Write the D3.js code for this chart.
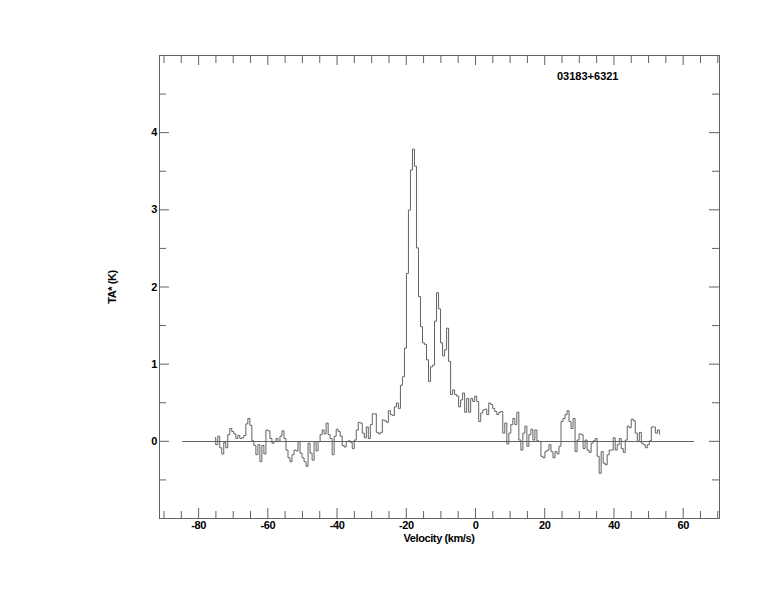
<!DOCTYPE html>
<html><head><meta charset="utf-8">
<script src="https://cdn.jsdelivr.net/npm/d3@7/dist/d3.min.js"></script>
<style>body{margin:0;background:#fff}svg{display:block}text{font-family:"Liberation Sans",Arial,Helvetica,sans-serif;font-weight:bold;font-size:11px;letter-spacing:-0.4px;fill:#000}</style>
</head><body>
<svg id="c" width="774" height="612"></svg>
<script>
// ---- data ----
const sourceName = "03183+6321";
const xLabel = "Velocity (km/s)";
const yLabel = "TA* (K)";
const v0 = -75.2;   // first channel velocity (km/s)
const dv = 0.58;    // channel width (km/s)
const taSegA = [0.04,-0.05,0.06,-0.09,-0.17,-0.02,-0.09,0.08,0.16,0.12,0.09,0.03,0.07,0.03,0.04,0.07,0.22,0.29,0.20,0.00,
  -0.06,-0.18,-0.05,-0.27,-0.06,-0.17,0.14,0.13,0.03,-0.03,-0.01,0.03,-0.01,0.06,0.13,0.03,-0.12,-0.22,-0.27,-0.18,
  -0.12,-0.13,-0.01,-0.16,-0.22,-0.27,-0.33,-0.03,-0.16,-0.25,-0.01,-0.13,-0.01,0.08,0.14,0.09,0.23,0.08,0.03,-0.18];
const taSegB = [0.06,0.15,0.12,0.06,-0.06,-0.08,-0.01,0.00,-0.02,-0.10,0.01,0.14,0.24,0.23,0.10,0.04,0.18,0.03,0.21,0.35,
  0.35,0.11,0.09,0.11,0.27,0.26,0.24,0.39,0.34,0.33,0.44,0.49];
const taSegC = [0.42,0.72,0.83,1.20,2.17,2.99,3.51,3.78,3.56,2.50,1.87,1.48,1.27,1.25,1.05,0.77,0.96,0.98,1.55,1.92,
  1.71,1.27,1.10,1.18,1.46,1.03,0.60];
const taSegD = [0.66,0.60,0.58,0.44,0.53,0.62,0.37,0.55,0.37,0.55,0.51,0.58,0.51,0.25,0.36,0.40,0.41,0.34,0.49,0.47,
  0.42,0.38,0.34,0.37,0.38,0.10,0.23,-0.04,0.10,0.21,0.29,0.21,0.37,0.01,-0.12,0.10,0.19,-0.07,0.08,0.15,
  0.01,0.14,0.00,-0.01,-0.20,-0.22,-0.14];
const taSegE = [-0.12,-0.05,-0.14,-0.22,-0.14,-0.17,-0.07,0.25,0.29,0.34,0.39,0.25,0.16,0.29,-0.14,0.01,0.09,0.08,-0.10,0.01,
  -0.12,-0.15,-0.03,0.00,0.03,-0.20,-0.42,-0.14,-0.29,-0.31,-0.18,-0.12,-0.12,0.04,-0.12,-0.05,0.03,-0.10,-0.15,0.01,
  0.19,0.17,0.28,0.26,0.10,-0.01,0.11,-0.03,-0.05,-0.09,-0.05,0.00,0.18,0.18,0.10,0.14,0.09];
const baselineRange = [-84.6, 63.3];
const xMajorTicks = [-80,-60,-40,-20,0,20,40,60];
const xMinorTicks = [-90,-85,-75,-70,-65,-55,-50,-45,-35,-30,-25,-15,-10,-5,5,10,15,25,30,35,45,50,55,65,70];
const yMajorTicks = [0,1,2,3,4];
const yMinorTicks = [-0.5,0.5,1.5,2.5,3.5,4.5];

// ---- build ----
const ta = [].concat(taSegA, taSegB, taSegC, taSegD, taSegE);
const spectrum = ta.map((t, i) => ({v: v0 + i * dv, t}));

const L = 159, R = 719, T = 55, B = 518;
const x = d3.scaleLinear().domain([-91.3, 70.5]).range([L, R]);
const y = d3.scaleLinear().domain([-1, 5]).range([B, T]);
const grey = "#626262";
const svg = d3.select("#c");
const fmt = d => String(d);   // plain hyphen-minus like the reference

function styleAxis(g){
  g.select(".domain").remove();
  g.selectAll(".tick line").attr("stroke", grey);
}
// bottom
svg.append("g").attr("transform", `translate(0,${B})`)
  .call(d3.axisBottom(x).tickValues(xMajorTicks).tickSize(-10).tickPadding(3).tickFormat(fmt))
  .call(styleAxis).call(g => g.selectAll("text").attr("font-size", null).attr("font-family", null));
svg.append("g").attr("transform", `translate(0,${B})`)
  .call(d3.axisBottom(x).tickValues(xMinorTicks).tickSize(-7).tickFormat(""))
  .call(styleAxis);
// top
svg.append("g").attr("transform", `translate(0,${T})`)
  .call(d3.axisTop(x).tickValues(xMajorTicks).tickSize(-10).tickFormat(""))
  .call(styleAxis);
svg.append("g").attr("transform", `translate(0,${T})`)
  .call(d3.axisTop(x).tickValues(xMinorTicks).tickSize(-8).tickFormat(""))
  .call(styleAxis);
// left
svg.append("g").attr("transform", `translate(${L},0)`)
  .call(d3.axisLeft(y).tickValues(yMajorTicks).tickSize(-10).tickPadding(2).tickFormat(fmt))
  .call(styleAxis).call(g => g.selectAll("text").attr("font-size", null).attr("font-family", null));
svg.append("g").attr("transform", `translate(${L},0)`)
  .call(d3.axisLeft(y).tickValues(yMinorTicks).tickSize(-7).tickFormat(""))
  .call(styleAxis);
// right
svg.append("g").attr("transform", `translate(${R},0)`)
  .call(d3.axisRight(y).tickValues(yMajorTicks).tickSize(-10).tickFormat(""))
  .call(styleAxis);
svg.append("g").attr("transform", `translate(${R},0)`)
  .call(d3.axisRight(y).tickValues(yMinorTicks).tickSize(-7).tickFormat(""))
  .call(styleAxis);

// frame
svg.append("rect").attr("x", L + 0.5).attr("y", T + 0.5).attr("width", R - L).attr("height", B - T)
  .attr("fill", "none").attr("stroke", grey).attr("stroke-width", 1);

// baseline
svg.append("line").attr("x1", x(baselineRange[0])).attr("x2", x(baselineRange[1]))
  .attr("y1", Math.round(y(0)) + 0.5).attr("y2", Math.round(y(0)) + 0.5)
  .attr("stroke", grey).attr("stroke-width", 1);

// spectrum
const line = d3.line().x(d => x(d.v)).y(d => y(d.t)).curve(d3.curveStep);
svg.append("path").datum(spectrum).attr("d", line)
  .attr("fill", "none").attr("stroke", grey).attr("stroke-width", 1);

// labels
svg.append("text").attr("x", 557).attr("y", 80).style("letter-spacing", "0px").text(sourceName);
svg.append("text").attr("x", 439).attr("y", 542).attr("text-anchor", "middle").text(xLabel);
svg.append("text").attr("transform", "translate(116,287) rotate(-90)").attr("text-anchor", "middle").text(yLabel);
</script>
</body></html>
